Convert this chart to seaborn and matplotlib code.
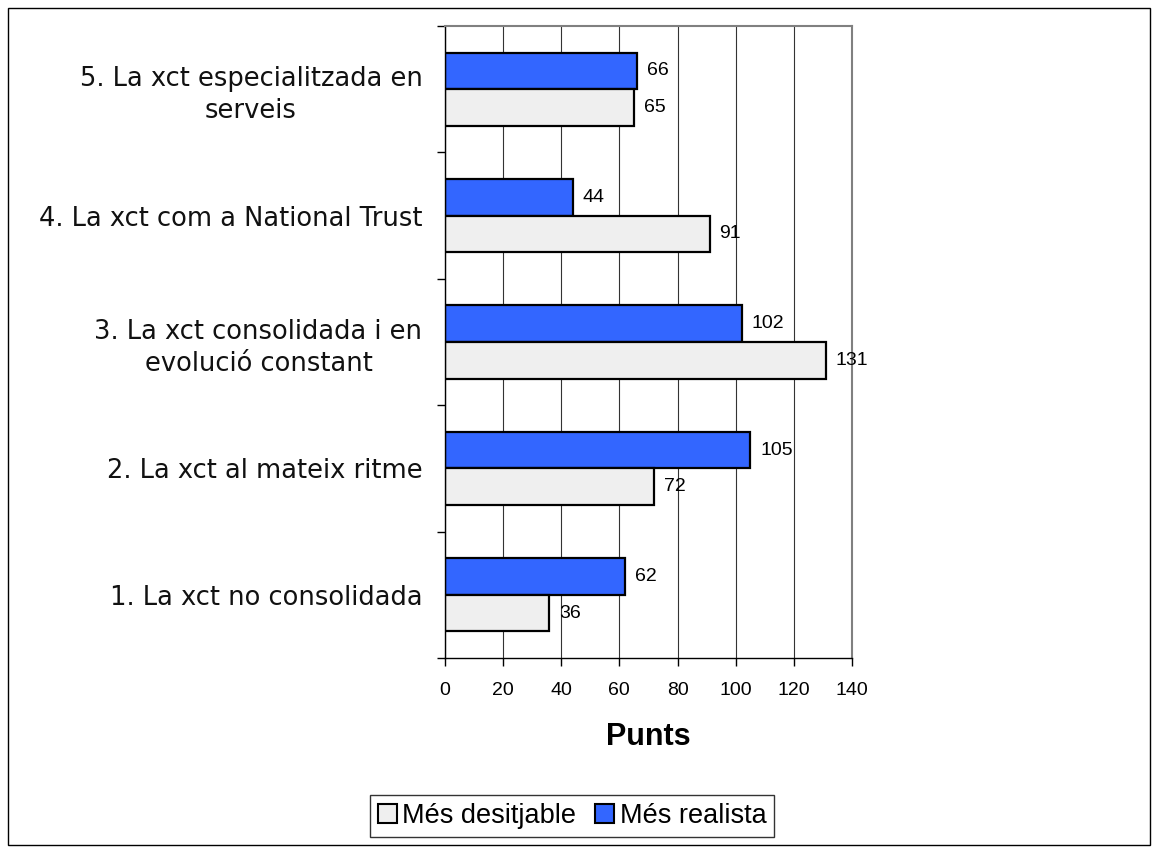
import matplotlib
matplotlib.use("Agg")
import matplotlib.pyplot as plt
from matplotlib.patches import Rectangle, Patch
import seaborn as sns
import pandas as pd

categories = [
    "5. La xct especialitzada en\nserveis",
    "4. La xct com a National Trust",
    "3. La xct consolidada i en\nevolució constant",
    "2. La xct al mateix ritme",
    "1. La xct no consolidada",
]
realista = [66, 44, 102, 105, 62]
desitjable = [65, 91, 131, 72, 36]
series = ["Més realista", "Més desitjable"]

df = pd.DataFrame({
    "cat": categories * 2,
    "serie": [series[0]] * 5 + [series[1]] * 5,
    "punts": realista + desitjable,
})

sns.set_style("white")
plt.rcParams["font.family"] = ["Liberation Sans", "DejaVu Sans"]
plt.rcParams["text.color"] = "black"
plt.rcParams["xtick.color"] = "black"
plt.rcParams["ytick.color"] = "black"
plt.rcParams["axes.labelcolor"] = "black"

fig = plt.figure(figsize=(11.58, 8.52), dpi=100)
ax = fig.add_axes([0.384, 0.2277, 0.352, 0.7418])

blue = "#3366ff"
light = "#efefef"
sns.barplot(data=df, y="cat", x="punts", hue="serie", order=categories,
            hue_order=series, palette=[blue, light], orient="h", width=0.58,
            edgecolor="black", linewidth=1.6, saturation=1, legend=False, ax=ax)

for cont in ax.containers:
    ax.bar_label(cont, padding=7, fontsize=14, color="black")

ax.set_xlim(0, 140)
ax.set_ylim(4.5, -0.5)
ax.set_xticks(range(0, 141, 20))
ax.tick_params(axis="x", labelsize=14, direction="out", length=6, width=1, bottom=True, pad=11)
ax.tick_params(axis="y", which="major", length=0, pad=16)
ax.set_yticks([i + 0.5 for i in range(-1, 5)], minor=True)
ax.tick_params(axis="y", which="minor", direction="out", length=6, width=1, left=True)
for t in ax.get_yticklabels():
    t.set_multialignment("center")
    t.set_linespacing(1.3)
    t.set_fontfamily("DejaVu Sans")
    t.set_fontsize(18.5)
    t.set_color("#111111")
ax.set_ylabel("")
ax.set_xlabel("Punts", fontsize=22, fontweight="bold", labelpad=17)

ax.grid(axis="x", color="#333333", linewidth=0.8)
ax.set_axisbelow(True)
for s in ["left", "bottom"]:
    ax.spines[s].set_color("black")
    ax.spines[s].set_linewidth(1)
for s in ["top", "right"]:
    ax.spines[s].set_color("#808080")
    ax.spines[s].set_linewidth(1.5)

handles = [Patch(facecolor=light, edgecolor="black", linewidth=1.5, label="Més desitjable"),
           Patch(facecolor=blue, edgecolor="black", linewidth=1.5, label="Més realista")]
leg = fig.legend(handles=handles, loc="center", bbox_to_anchor=(0.494, 0.042), ncol=2,
                 fontsize=19.5, frameon=True, fancybox=False, handlelength=0.7,
                 handleheight=0.7, handletextpad=0.2, columnspacing=0.7,
                 borderpad=0.3, borderaxespad=0)
leg.get_frame().set_edgecolor("black")
leg.get_frame().set_linewidth(1)

fig.patches.append(Rectangle((0.007, 0.008), 0.986, 0.983, transform=fig.transFigure,
                             fill=False, edgecolor="black", linewidth=1))

fig.savefig("out.png", dpi=100)
